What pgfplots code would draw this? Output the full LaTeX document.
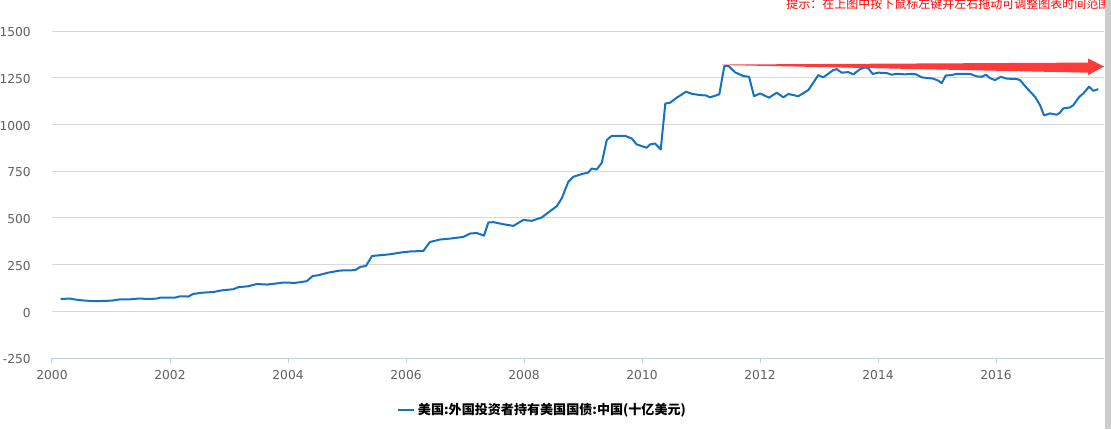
\documentclass[border=0pt]{standalone}
\usepackage{fontspec}
\usepackage{pgfplots}
\pgfplotsset{compat=1.18}
\setmainfont{DejaVu Sans}
\newfontfamily\cjk{Noto Sans CJK SC}
\definecolor{linecol}{RGB}{20,114,197}
\definecolor{gridcol}{RGB}{216,216,216}
\definecolor{axiscol}{RGB}{192,208,224}
\definecolor{tickcol}{RGB}{96,96,96}
\definecolor{arrowred}{RGB}{255,58,58}
\definecolor{scrollcol}{RGB}{205,205,205}
\begin{document}
\begin{tikzpicture}
\useasboundingbox (0,0) rectangle (833.25pt,321.75pt);
\begin{axis}[
  at={(39pt,53.25pt)}, anchor=south west,
  scale only axis, width=789pt, height=245.25pt,
  xmin=2000, xmax=2017.83, ymin=-250, ymax=1500,
  xtick={2000,2002,...,2016},
  ytick={-250,0,250,...,1500},
  /pgf/number format/1000 sep={},
  /pgf/number format/assume math mode=true,
  axis x line=bottom, axis y line=left,
  axis line style={-},
  x axis line style={color=axiscol, line width=0.75pt},
  y axis line style={draw=none},
  xtick style={color=axiscol, line width=0.75pt},
  ytick style={draw=none},
  tick align=outside, major tick length=3.75pt,
  ymajorgrids, grid style={color=gridcol, line width=0.75pt},
  ticklabel style={font=\fontsize{9.2}{10}\selectfont, color=tickcol},
  xticklabel style={inner sep=0pt, anchor=north, yshift=-5.25pt},
  yticklabel style={inner sep=0pt, anchor=east, xshift=-12pt, yshift=-1pt},
  legend style={draw=none, fill=none, inner sep=0pt, at={(0.328,-0.159)}, anchor=west,
    font=\cjk\bfseries\fontsize{9.8}{11}\selectfont, legend cell align=left},
  legend image code/.code={\draw[#1, line width=1.5pt] (0pt,0pt) -- (12pt,0pt);},
]
\addplot[color=linecol, line width=1.5pt, line join=round] coordinates {
(2000.147,66) (2000.305,68) (2000.39,63) (2000.559,57) (2000.758,54) (2001.012,57)
(2001.153,64) (2001.322,64) (2001.463,68) (2001.661,66) (2001.775,68) (2001.831,73)
(2002.085,73) (2002.169,80) (2002.31,79) (2002.395,93) (2002.564,100) (2002.734,103)
(2002.876,112) (2003.073,118) (2003.158,129) (2003.327,134) (2003.469,146) (2003.639,143)
(2003.78,148) (2003.92,154) (2004.119,152) (2004.317,161) (2004.419,189) (2004.514,193)
(2004.683,207) (2004.881,218) (2005.136,220) (2005.22,237) (2005.322,243) (2005.424,296)
(2005.559,300) (2005.729,305) (2005.898,314) (2006.068,320) (2006.293,323) (2006.407,371)
(2006.576,384) (2006.746,389) (2006.971,398) (2007.085,416) (2007.198,419) (2007.322,405)
(2007.395,475) (2007.48,477) (2007.649,466) (2007.819,457) (2007.988,489) (2008.131,484)
(2008.3,502) (2008.412,529) (2008.554,562) (2008.639,604) (2008.751,693) (2008.836,720)
(2008.978,734) (2009.09,743) (2009.147,764) (2009.232,759) (2009.317,794) (2009.402,916)
(2009.486,939) (2009.712,939) (2009.825,925) (2009.91,893) (2010.08,875) (2010.136,893)
(2010.22,898) (2010.317,866) (2010.395,1112) (2010.475,1116) (2010.588,1143) (2010.746,1175)
(2010.842,1164) (2010.983,1157) (2011.085,1155) (2011.153,1145) (2011.31,1161) (2011.395,1312)
(2011.463,1314) (2011.576,1279) (2011.717,1259) (2011.814,1255) (2011.898,1151) (2012.0,1166)
(2012.153,1143) (2012.283,1170) (2012.395,1145) (2012.48,1163) (2012.649,1151) (2012.819,1184)
(2012.988,1264) (2013.073,1252) (2013.242,1291) (2013.3,1296) (2013.384,1277) (2013.497,1280)
(2013.582,1268) (2013.695,1296) (2013.78,1305) (2013.836,1300) (2013.91,1270) (2014.005,1277)
(2014.147,1275) (2014.232,1266) (2014.317,1271) (2014.458,1268) (2014.571,1271) (2014.644,1268)
(2014.741,1252) (2014.937,1245) (2015.022,1234) (2015.08,1221) (2015.147,1262) (2015.249,1264)
(2015.334,1271) (2015.559,1271) (2015.673,1257) (2015.758,1255) (2015.831,1266) (2015.898,1248)
(2015.983,1237) (2016.08,1255) (2016.181,1245) (2016.351,1243) (2016.407,1237) (2016.52,1195)
(2016.661,1148) (2016.746,1103) (2016.814,1048) (2016.915,1059) (2017.029,1052) (2017.085,1063)
(2017.141,1086) (2017.254,1091) (2017.31,1103) (2017.412,1148) (2017.48,1166) (2017.576,1202)
(2017.649,1180) (2017.734,1189)
};
\addlegendentry{美国:外国投资者持有美国国债:中国(十亿美元)}
\fill[arrowred] (axis cs:2011.356,1320.5) -- (axis cs:2017.56,1331) -- (axis cs:2017.56,1353)
  -- (axis cs:2017.83,1310) -- (axis cs:2017.56,1264) -- (axis cs:2017.56,1277)
  -- (axis cs:2011.356,1318) -- cycle;
\end{axis}
\begin{scope}
\clip (0,0) rectangle (828pt,321.75pt);
\node[anchor=west, inner sep=0pt, text=red, font=\cjk\fontsize{9}{10}\selectfont] at (589.5pt,318.75pt) {提示：在上图中按下鼠标左键并左右拖动可调整图表时间范围};
\end{scope}
\fill[scrollcol] (828.75pt,0) rectangle (833.25pt,321.75pt);
\end{tikzpicture}
\end{document}
